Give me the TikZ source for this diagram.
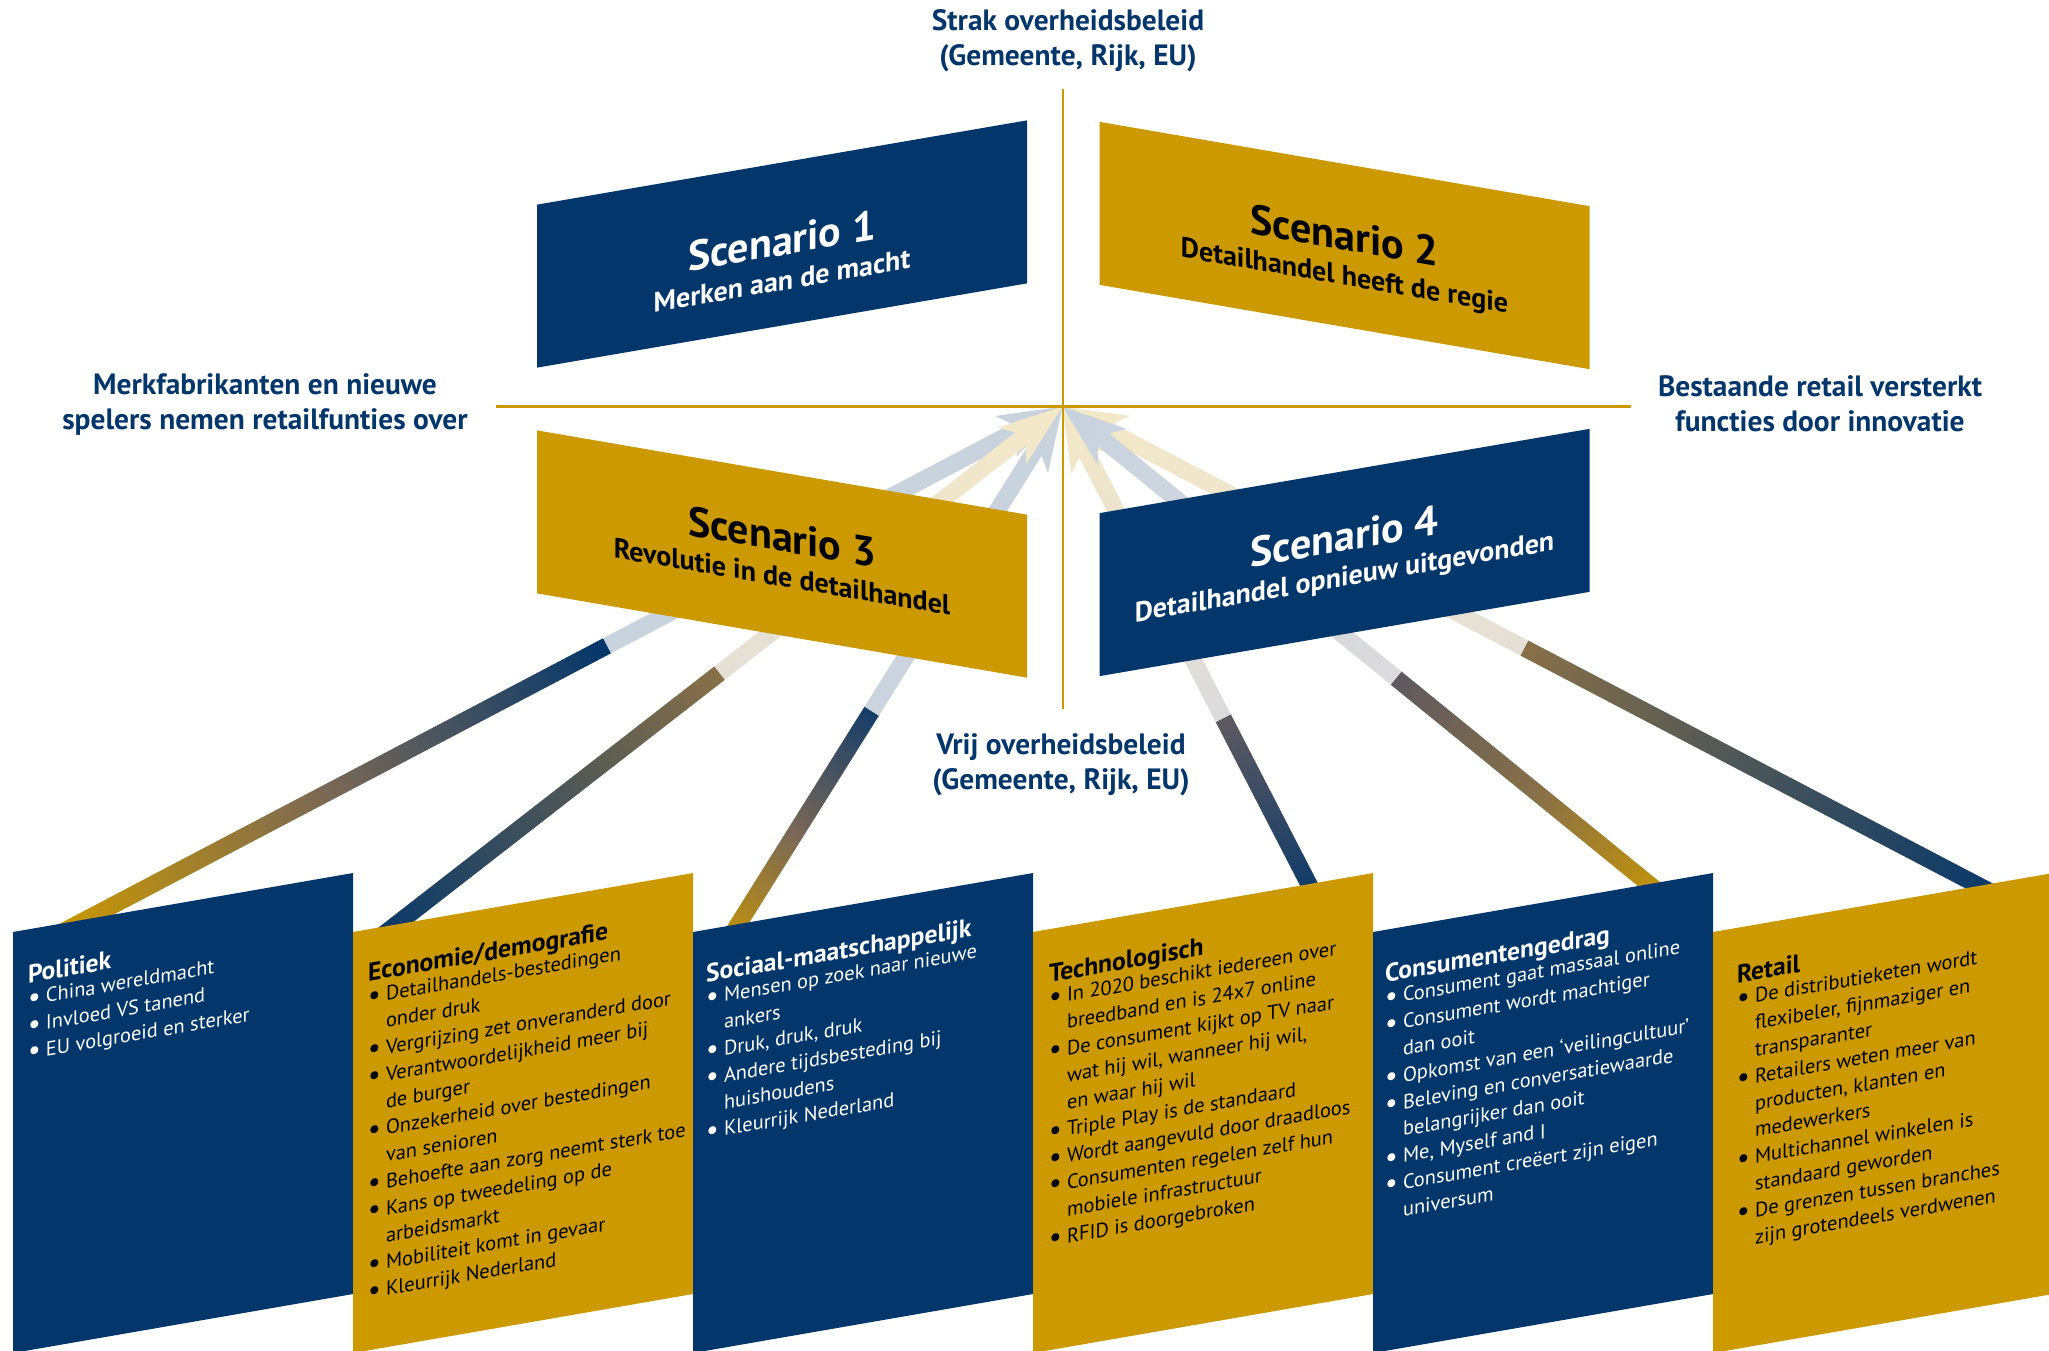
\documentclass[tikz,border=0pt]{standalone}
\usepackage{fontspec}
\setmainfont{PT Sans}
\usetikzlibrary{calc,backgrounds}
\definecolor{navy}{HTML}{03366B}
\definecolor{gold}{HTML}{CC9900}
\definecolor{bronze}{HTML}{887048}
\definecolor{pewter}{HTML}{5E5960}
\definecolor{umber}{HTML}{7A6856}

\newcommand\bul{\makebox[9pt][l]{\raisebox{-0.6pt}{\fontsize{14}{14}\selectfont•}}}
\newcommand\hang{\hspace*{9pt}}
\newcommand\cardhead[1]{{\bfseries\fontsize{12.8}{13.4}\selectfont #1}}
\newcommand\scenhead[1]{{\fontsize{21}{22}\selectfont #1}}

% feeder strip from a card to the hub:
% [#1] extra shading keys, #2 foot, #3 where it fades (fraction),
% #4 colour at the foot, #5 colour at the fade, #6 colour at the hub
\newcommand\feed[6][]{%
  \pgfmathanglebetweenpoints{\pgfpointanchor{#2}{center}}{\pgfpointanchor{hub}{center}}%
  \let\feedangle\pgfmathresult
  \pgfpointdiff{\pgfpointanchor{#2}{center}}{\pgfpointanchor{hub}{center}}%
  \pgfgetlastxy{\feedx}{\feedy}%
  \pgfmathsetmacro\feedlen{veclen(\feedx,\feedy)}%
  \pgfmathsetmacro\feedcut{#3*\feedlen}%
  \begin{scope}[transform canvas={shift={(#2)},rotate=\feedangle}]
    \shade[left color=#4, right color=#5, #1] (-20pt,-4.25pt) rectangle (\feedcut pt,4.25pt);
    \shade[left color=#5!22!white, right color=#6!22!white]
      (\feedcut pt,-4.25pt) -- (\feedlen pt-26.5pt,-4.25pt) -- (\feedlen pt-32pt,-11.5pt)
      -- (\feedlen pt,0pt) -- (\feedlen pt-32pt,11.5pt) -- (\feedlen pt-26.5pt,4.25pt)
      -- (\feedcut pt,4.25pt) -- cycle;
  \end{scope}}

\begin{document}
\begin{tikzpicture}[x=0.5pt, y=-0.5pt,
  axistext/.style={font=\bfseries\fontsize{14.7}{17.5}\selectfont, text=navy, align=center},
  scenario/.style={minimum width=245pt, minimum height=81.5pt, inner sep=0pt, transform shape},
  scentext/.style={font=\bfseries\fontsize{14}{17.5}\selectfont, align=center, inner sep=0pt, transform shape},
  card/.style={minimum width=170pt, minimum height=210.5pt, inner sep=0pt, yslant=0.1735, transform shape},
  cardtext/.style={anchor=north west, inner sep=0pt, align=left, yslant=0.1735, transform shape,
    font=\fontsize{10.2}{13.4}\selectfont}]
\useasboundingbox (0,0) rectangle (2049,1350);
\coordinate (hub) at (1062.5,406.5);

% the four scenarios
\node[scenario, fill=navy, yslant=0.172] (sc1) at (782,244) {};
\node[scenario, fill=gold, yslant=-0.172] (sc2) at (1344.5,245.5) {};
\node[scenario, fill=gold, yslant=-0.172] (sc3) at (782,554) {};
\node[scenario, fill=navy, yslant=0.172] (sc4) at (1344.5,552.5) {};
\node[scentext, text=white, yslant=0.172] (sc1-text) at ($(sc1)+(0,14)$)
  {\scenhead{Scenario 1}\\Merken aan de macht};
\node[scentext, yslant=-0.172] (sc2-text) at ($(sc2)+(0,10)$)
  {\scenhead{Scenario 2}\\Detailhandel heeft de regie};
\node[scentext, yslant=-0.172] (sc3-text) at ($(sc3)+(0,0)$)
  {\scenhead{Scenario 3}\\Revolutie in de detailhandel};
\node[scentext, text=white, yslant=0.172] (sc4-text) at ($(sc4)+(0,4)$)
  {\scenhead{Scenario 4}\\Detailhandel opnieuw uitgevonden};

% axes and their ends
\draw[gold, line width=1.5pt] ($(hub)+(-567,0)$) -- ($(hub)+(568,0)$);
\draw[gold, line width=1pt] ($(hub)+(0,-318)$) -- ($(hub)+(0,302)$);
\node[axistext] (strak) at (1068,41) {Strak overheidsbeleid\\(Gemeente, Rijk, EU)};
\node[axistext] (vrij) at (1061,765) {Vrij overheidsbeleid\\(Gemeente, Rijk, EU)};
\node[axistext] (merk) at (265,404) {Merkfabrikanten en nieuwe\\spelers nemen retailfunties over};
\node[axistext] (bestaand) at (1820,404) {Bestaande retail versterkt\\functies door innovatie};

% the six driving forces
\node[card, fill=navy] (politiek) at (183,1113) {};
\node[card, fill=gold] (economie) at (523,1113) {};
\node[card, fill=navy] (sociaal) at (863,1113) {};
\node[card, fill=gold] (techniek) at (1203,1113) {};
\node[card, fill=navy] (gedrag) at (1543,1113) {};
\node[card, fill=gold] (retail) at (1883,1113) {};

\node[cardtext, text=white] (politiek-text) at ($(politiek.north west)+(15,33)$)
  {\cardhead{Politiek}\\[-2pt]
   \bul China wereldmacht\\
   \bul Invloed VS tanend\\
   \bul EU volgroeid en sterker};
\node[cardtext] (economie-text) at ($(economie.north west)+(15,31)$)
  {\cardhead{Economie/demografie}\\[-2pt]
   \bul Detailhandels-bestedingen\\ \hang onder druk\\
   \bul Vergrijzing zet onveranderd door\\
   \bul Verantwoordelijkheid meer bij\\ \hang de burger\\
   \bul Onzekerheid over bestedingen\\ \hang van senioren\\
   \bul Behoefte aan zorg neemt sterk toe\\
   \bul Kans op tweedeling op de\\ \hang arbeidsmarkt\\
   \bul Mobiliteit komt in gevaar\\
   \bul Kleurrijk Nederland};
\node[cardtext, text=white] (sociaal-text) at ($(sociaal.north west)+(13,32)$)
  {\cardhead{Sociaal-maatschappelijk}\\[-2pt]
   \bul Mensen op zoek naar nieuwe\\ \hang ankers\\
   \bul Druk, druk, druk\\
   \bul Andere tijdsbesteding bij\\ \hang huishoudens\\
   \bul Kleurrijk Nederland};
\node[cardtext] (techniek-text) at ($(techniek.north west)+(16,32)$)
  {\cardhead{Technologisch}\\[-2pt]
   \bul In 2020 beschikt iedereen over\\ \hang breedband en is 24x7 online\\
   \bul De consument kijkt op TV naar\\ \hang wat hij wil, wanneer hij wil,\\ \hang en waar hij wil\\
   \bul Triple Play is de standaard\\
   \bul Wordt aangevuld door draadloos\\
   \bul Consumenten regelen zelf hun\\ \hang mobiele infrastructuur\\
   \bul RFID is doorgebroken};
\node[cardtext, text=white] (gedrag-text) at ($(gedrag.north west)+(12,32)$)
  {\cardhead{Consumentengedrag}\\[-2pt]
   \bul Consument gaat massaal online\\
   \bul Consument wordt machtiger\\ \hang dan ooit\\
   \bul Opkomst van een ‘veilingcultuur’\\
   \bul Beleving en conversatiewaarde\\ \hang belangrijker dan ooit\\
   \bul Me, Myself and I\\
   \bul Consument creëert zijn eigen\\ \hang universum};
\node[cardtext] (retail-text) at ($(retail.north west)+(24,33)$)
  {\cardhead{Retail}\\[-2pt]
   \bul De distributieketen wordt\\ \hang flexibeler, fijnmaziger en\\ \hang transparanter\\
   \bul Retailers weten meer van\\ \hang producten, klanten en\\ \hang medewerkers\\
   \bul Multichannel winkelen is\\ \hang standaard geworden\\
   \bul De grenzen tussen branches\\ \hang zijn grotendeels verdwenen};

% where the feeders leave the cards
\coordinate (politiek-foot) at ($(politiek.north west)!0.22!(politiek.north east)$);
\coordinate (economie-foot) at ($(economie.north west)!0.13!(economie.north east)$);
\coordinate (sociaal-foot) at ($(sociaal.north west)!0.135!(sociaal.north east)$);
\coordinate (techniek-foot) at ($(techniek.north west)!0.81!(techniek.north east)$);
\coordinate (gedrag-foot) at ($(gedrag.north west)!0.81!(gedrag.north east)$);
\coordinate (retail-foot) at ($(retail.north west)!0.78!(retail.north east)$);

% feeders behind everything, the middle ones on top
\begin{pgfonlayer}{background}
  \feed[middle color=umber]{politiek-foot}{0.533}{gold}{navy}{navy}
  \feed[middle color=umber]{sociaal-foot}{0.411}{gold}{navy!80!pewter}{navy}
  \feed{economie-foot}{0.485}{navy}{bronze}{gold}
  \feed{techniek-foot}{0.347}{navy}{pewter}{gold}
  \feed{retail-foot}{0.496}{navy}{bronze}{gold}
  \feed[middle color=bronze]{gedrag-foot}{0.431}{gold}{pewter}{navy}
\end{pgfonlayer}
\end{tikzpicture}
\end{document}
